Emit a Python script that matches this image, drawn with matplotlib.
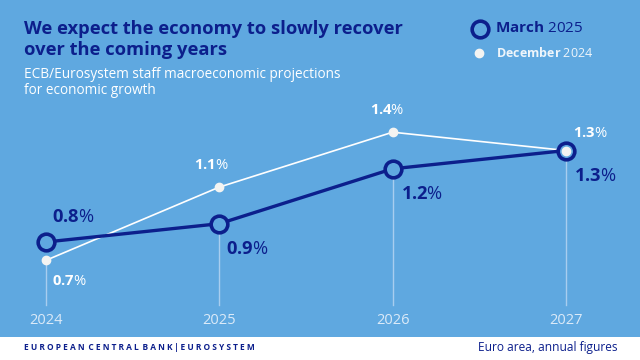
import matplotlib.pyplot as plt

plt.rcParams['font.family'] = ['Open Sans', 'DejaVu Sans']
plt.rcParams['mathtext.fontset'] = 'custom'
plt.rcParams['mathtext.rm'] = 'Open Sans'
plt.rcParams['mathtext.bf'] = 'Open Sans:bold'

years = [2024, 2025, 2026, 2027]
march_2025 = [0.8, 0.9, 1.2, 1.3]
december_2024 = [0.7, 1.1, 1.4, 1.3]

bg = '#5fa8e0'
navy = '#0c1f8c'
white = '#ffffff'
grid = '#a8cdef'

fig = plt.figure(figsize=(6.4, 3.6), dpi=100)
fig.patch.set_facecolor(white)

# axes covers the whole figure, limits chosen so that points land where they should
ax = fig.add_axes([0, 0, 1, 1])
ax.set_facecolor(white)
ax.set_xlim(2023.7346, 2027.4275)
ax.set_ylim(0.1552, 2.1224)
ax.axis('off')
ax.add_patch(plt.Rectangle((0, 1 - 337 / 360), 1, 337 / 360, transform=fig.transFigure,
                           facecolor=bg, zorder=0))

# vertical guide lines
for x, a, b in zip(years, march_2025, december_2024):
    ax.plot([x, x], [0.456, min(a, b)], color=grid, lw=1, zorder=1)
    ax.text(x, 0.37, str(x), color='#dbeaf8', fontsize=10.5, ha='center', va='center')

# december line
ax.plot(years, december_2024, color=white, lw=1.2, zorder=2)
# march line
ax.plot(years, march_2025, color=navy, lw=2.4, zorder=3, marker='o', markersize=12,
        markerfacecolor=bg, markeredgecolor=navy, markeredgewidth=2.6)
ax.plot(years, december_2024, ls='none', marker='o', markersize=6, color='#f4f4f2', zorder=4)


def label(x, y, num, color, size, dx, dy):
    ax.annotate(r'$\mathbf{' + num + '}$%', xy=(x, y), xytext=(dx, dy),
                textcoords='offset pixels', color=color, fontsize=size, va='baseline', ha='left')


march_off = [(6, 20), (7, -30), (8, -30), (8, -30)]
dec_off = [(6, -25), (-25, 18), (-23, 18), (7, 14)]
for x, v, o in zip(years, march_2025, march_off):
    label(x, v, f'{v:.1f}', navy, 13.2, o[0], o[1])
for x, v, o in zip(years, december_2024, dec_off):
    label(x, v, f'{v:.1f}', white, 10.7, o[0], o[1])

# title and subtitle
fig.text(24 / 640, 1 - 29 / 360, 'We expect the economy to slowly recover', color=navy,
         fontsize=13.2, fontweight='bold', va='center')
fig.text(24 / 640, 1 - 50 / 360, 'over the coming years', color=navy,
         fontsize=13.2, fontweight='bold', va='center')
fig.text(24 / 640, 1 - 75 / 360, 'ECB/Eurosystem staff macroeconomic projections', color=white,
         fontsize=9.8, va='center')
fig.text(24 / 640, 1 - 90 / 360, 'for economic growth', color=white, fontsize=9.8, va='center')

# legend
fig.lines.append(plt.Line2D([480 / 640], [1 - 29 / 360], transform=fig.transFigure, marker='o',
                            markersize=12, markerfacecolor=bg, markeredgecolor=navy,
                            markeredgewidth=2.6))
fig.lines.append(plt.Line2D([479 / 640], [1 - 53 / 360], transform=fig.transFigure, marker='o',
                            markersize=6, color='#f4f4f2'))
fig.text(495 / 640, 1 - 29 / 360, r'$\mathbf{March}$ 2025', color=navy, fontsize=11,
         va='center')
fig.text(496 / 640, 1 - 53 / 360, r'$\mathbf{December}$ 2024', color='#eef5fb', fontsize=9,
         va='center')

# footer
fig.text(24 / 640, 1 - 348 / 360, 'E U R O P E A N   C E N T R A L   B A N K  |  E U R O S Y S T E M'.replace('  ', '\u2009'),
         color=navy, fontsize=6, fontweight='bold', va='center')
fig.text(618 / 640, 1 - 348 / 360, 'Euro area, annual figures', color=navy, fontsize=8.6,
         ha='right', va='center')

fig.savefig('out.png', dpi=100, facecolor=fig.get_facecolor())
